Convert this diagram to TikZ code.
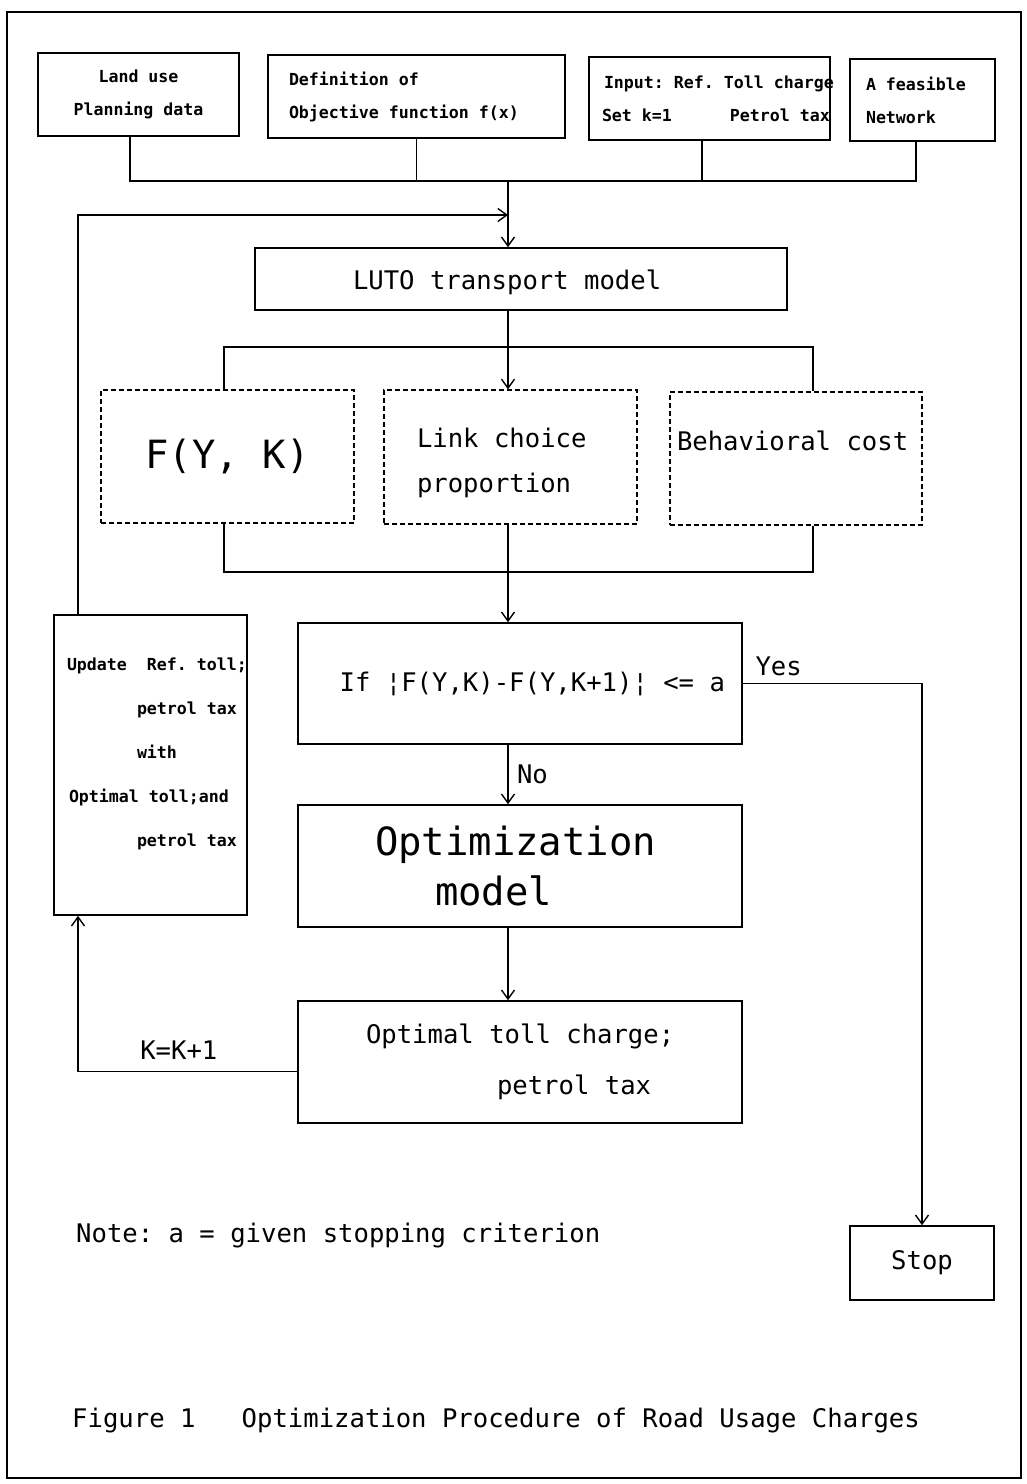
\documentclass[tikz,border=0pt]{standalone}
\usepackage{fontspec}
\setmonofont{DejaVu Sans Mono}
\usetikzlibrary{arrows.meta}
\tikzset{
  font=\ttfamily\frenchspacing,
  >={Straight Barb[length=9pt,width=13pt]},
  box/.style={draw,line width=1.6pt,inner sep=0pt},
  dbox/.style={box,line width=1.3pt,dash pattern=on 5pt off 3pt},
  smalltxt/.style={font=\ttfamily\bfseries\frenchspacing\fontsize{16.6}{33}\selectfont},
  updtxt/.style={font=\ttfamily\bfseries\frenchspacing\fontsize{16.6}{44}\selectfont},
  midtxt/.style={font=\ttfamily\frenchspacing\fontsize{25.6}{45}\selectfont},
  bigtxt/.style={font=\ttfamily\frenchspacing\fontsize{38.9}{50}\selectfont},
  conn/.style={draw,line width=1.4pt},
  flow/.style={conn,->}
}
\begin{document}
\begin{tikzpicture}[x=1pt,y=-1pt]
  \useasboundingbox (0,0) rectangle (1027,1484);
  \draw[line width=2.6pt] (7,12) rectangle (1021,1478);

  \node[box,smalltxt,minimum width=201pt,minimum height=83pt,align=flush center] (landuse) at (138.5,94.5) {Land use\\Planning data};
  \node[box,smalltxt,minimum width=297pt,minimum height=83pt,align=flush left,text width=255pt,inner xsep=21pt] (objfun) at (416.5,96.5) {Definition of\\Objective function f(x)};
  \node[box,smalltxt,minimum width=241pt,minimum height=83pt,align=flush left,text width=241pt,inner xsep=0pt] (input) at (709.5,98.5) {\hspace*{15pt}\mbox{Input: Ref. Toll charge}\\\hspace*{13pt}\mbox{Set k=1\hspace{58pt}Petrol tax}};
  \node[box,smalltxt,minimum width=145pt,minimum height=82pt,align=flush left,text width=113pt,inner xsep=16pt] (network) at (922.5,100) {A feasible\\Network};
  \node[box,midtxt,minimum width=532pt,minimum height=62pt,align=flush left,text width=336pt,inner xsep=98pt] (luto) at (521,279) {\rule{0pt}{26pt}LUTO transport model};
  \node[dbox,bigtxt,minimum width=253pt,minimum height=133pt] (fyk) at (227.5,456.5) {F(Y, K)};
  \node[dbox,midtxt,minimum width=253pt,minimum height=134pt,align=flush left,text width=187pt,inner xsep=33pt] (link) at (510.5,457) {\rule{0pt}{31pt}Link choice\\proportion};
  \node[dbox,midtxt,minimum width=252pt,minimum height=133pt,align=flush left,text width=238pt,inner xsep=7pt] (behav) at (796,458.5) {Behavioral cost\\[-9pt]\mbox{}};
  \node[box,midtxt,minimum width=444pt,minimum height=121pt,align=flush right,text width=410pt,inner xsep=17pt] (test) at (520,683.5) {If ¦F(Y,K)-F(Y,K+1)¦ <= a};
  \node[box,bigtxt,minimum width=444pt,minimum height=122pt,align=flush left,text width=290pt,inner xsep=77pt] (optm) at (520,866) {Optimization\\\hspace*{60pt}model};
  \node[box,midtxt,minimum width=444pt,minimum height=122pt,align=flush left,text width=312pt,inner xsep=66pt] (optout) at (520,1062) {\hspace*{2pt}Optimal toll charge;\\[6pt]\hspace*{133pt}petrol tax};
  \node[box,updtxt,minimum width=193pt,minimum height=300pt,align=flush left,text width=167pt,inner xsep=13pt] (update) at (150.5,765) {\mbox{Update\ \ Ref. toll;}\\\mbox{\hspace*{70pt}petrol tax}\\\mbox{\hspace*{70pt}with}\\\mbox{\hspace*{2pt}Optimal toll;and}\\\mbox{\hspace*{70pt}petrol tax}\rule[-26pt]{0pt}{26pt}};
  \node[box,midtxt,minimum width=144pt,minimum height=74pt] (stop) at (922,1263) {Stop};
  \node[midtxt,anchor=west,inner sep=0pt] (note) at (76,1236) {Note: a = given stopping criterion};
  \node[midtxt,anchor=west,inner sep=0pt] (caption) at (72,1421) {Figure 1\ \ \ Optimization Procedure of Road Usage Charges};

  \coordinate (top) at (508,181);
  \coordinate (back) at (508,215);
  \coordinate (split) at (508,347);
  \coordinate (merge) at (508,572);

  % inputs join, then the loop back from the update box
  \foreach \n/\dx in {landuse/-8.5,objfun/0,input/-7.5,network/-6.5}
    \draw[conn] ([xshift=\dx pt]\n.south) |- (top);
  \draw[flow] (top) -- (top |- luto.north);
  \draw[flow] ([xshift=-72.5pt]update.north) |- (back);
  \draw[conn] (split |- luto.south) -- (split);
  \draw[conn] ([xshift=-3.5pt]fyk.north) |- (split);
  \draw[conn] ([xshift=17pt]behav.north) |- (split);
  \draw[flow] (split) -- (split |- link.north);
  \draw[conn] ([xshift=-3.5pt]fyk.south) |- (merge);
  \draw[conn] ([xshift=17pt]behav.south) |- (merge);
  \draw[conn] (merge |- link.south) -- (merge);
  \draw[flow] (merge) -- (merge |- test.north);
  \draw[flow] (test.east) -| node[midtxt,pos=.1,above,yshift=4pt]{Yes} (stop.north);
  \draw[flow] (merge |- test.south) -- node[midtxt,right,xshift=5pt]{No} (merge |- optm.north);
  \draw[flow] (merge |- optm.south) -- (merge |- optout.north);
  \draw[flow] ([yshift=-9.5pt]optout.west) -| node[midtxt,pos=.27,above,yshift=8pt]{K=K+1} ([xshift=-72.5pt]update.south);
\end{tikzpicture}
\end{document}
